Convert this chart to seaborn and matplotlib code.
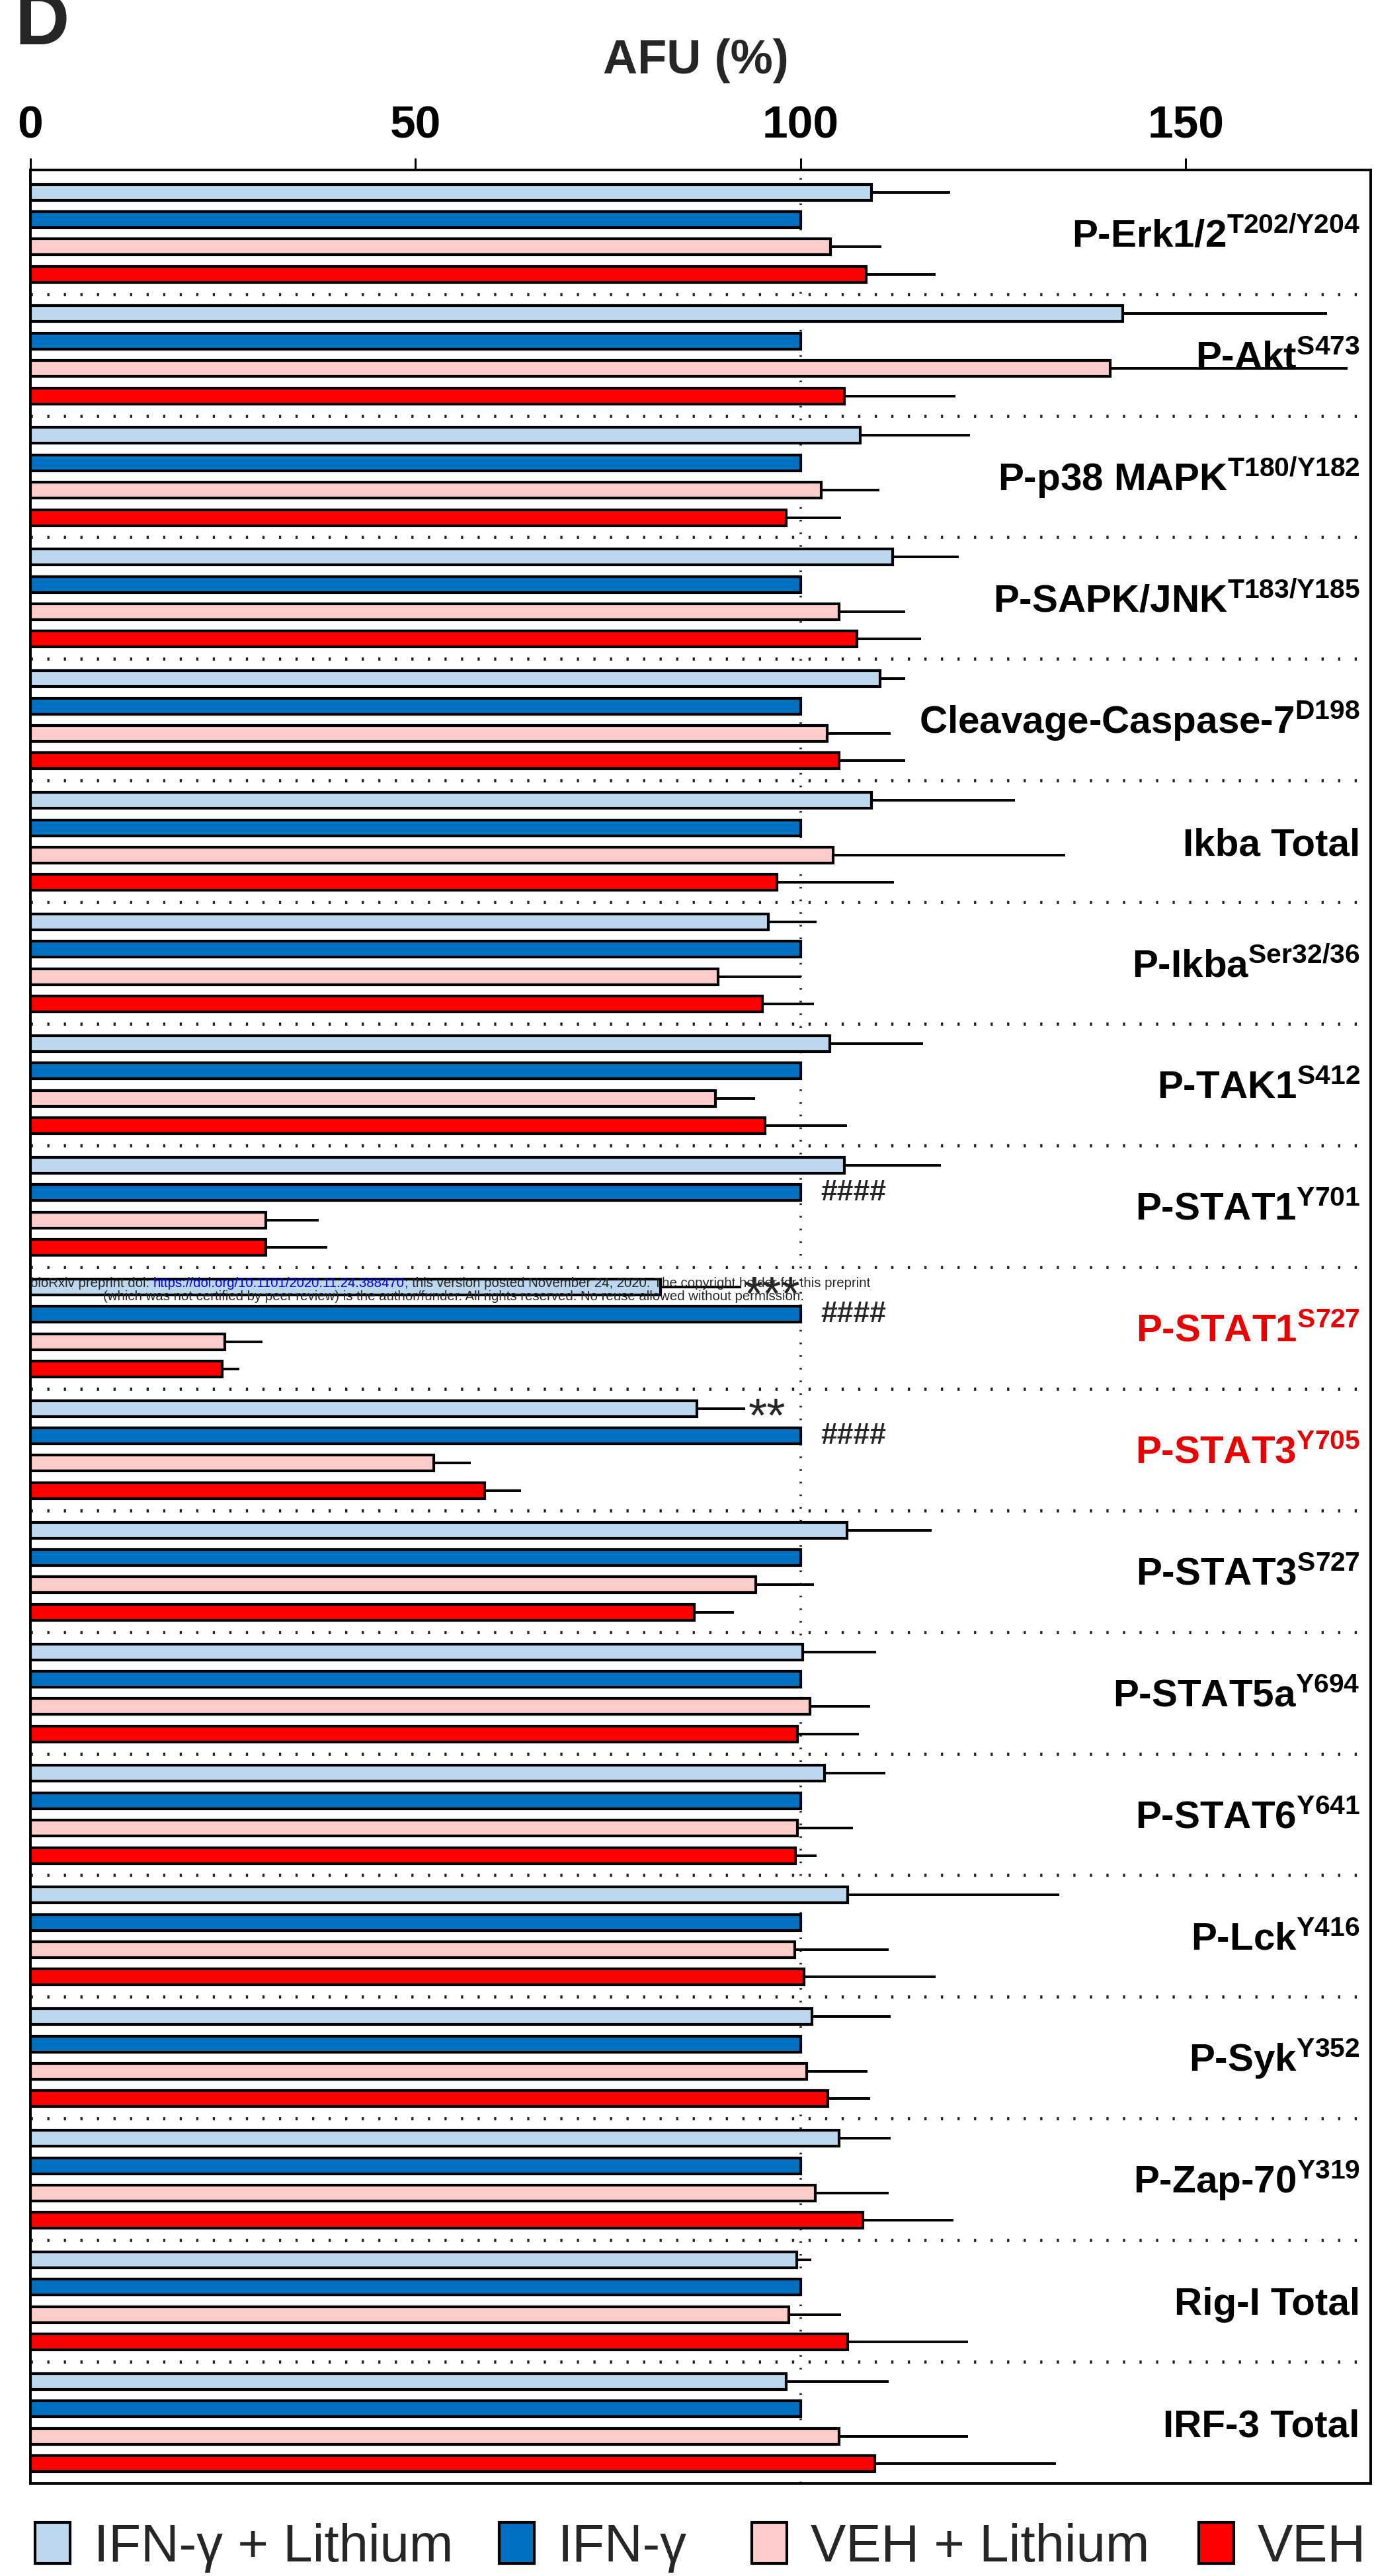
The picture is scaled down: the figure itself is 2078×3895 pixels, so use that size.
import numpy as np
import pandas as pd
import matplotlib
matplotlib.use("Agg")
import matplotlib.pyplot as plt
import matplotlib.transforms as mtransforms
from matplotlib.patches import Patch
from matplotlib.container import BarContainer
import seaborn as sns

# ---------------------------------------------------------------- data
proteins = ["P-Erk1/2", "P-Akt", "P-p38 MAPK", "P-SAPK/JNK", "Cleavage-Caspase-7",
            "Ikba Total", "P-Ikba", "P-TAK1", "P-STAT1 Y701", "P-STAT1 S727",
            "P-STAT3 Y705", "P-STAT3 S727", "P-STAT5a", "P-STAT6", "P-Lck",
            "P-Syk", "P-Zap-70", "Rig-I Total", "IRF-3 Total"]
label_main = ["P-Erk1/2", "P-Akt", "P-p38 MAPK", "P-SAPK/JNK", "Cleavage-Caspase-7",
              "Ikba Total", "P-Ikba", "P-TAK1", "P-STAT1", "P-STAT1",
              "P-STAT3", "P-STAT3", "P-STAT5a", "P-STAT6", "P-Lck",
              "P-Syk", "P-Zap-70", "Rig-I Total", "IRF-3 Total"]
label_site = ["T202/Y204", "S473", "T180/Y182", "T183/Y185", "D198",
              "", "Ser32/36", "S412", "Y701", "S727",
              "Y705", "S727", "Y694", "Y641", "Y416",
              "Y352", "Y319", "", ""]
highlighted = ["P-STAT1 S727", "P-STAT3 Y705"]

groups = ["IFN-γ + Lithium", "IFN-γ", "VEH + Lithium", "VEH"]
colors = ["#bdd7ee", "#0070c0", "#ffcccc", "#ff0000"]

ifn_lithium = [109.2, 141.8, 107.7, 111.9, 110.3, 109.2, 95.8, 103.8, 105.7, 81.8,
               86.5, 106.0, 100.3, 103.1, 106.1, 101.5, 105.0, 99.5, 98.1]
ifn = [100.0] * 19
veh_lithium = [103.9, 140.2, 102.7, 105.0, 103.4, 104.2, 89.3, 88.9, 30.6, 25.2,
               52.4, 94.2, 101.2, 99.6, 99.2, 100.8, 101.9, 98.5, 105.0]
veh = [108.5, 105.7, 98.1, 107.3, 105.0, 96.9, 95.0, 95.4, 30.6, 24.9,
       59.0, 86.2, 99.6, 99.3, 100.4, 103.5, 108.1, 106.1, 109.6]

ifn_lithium_err = [10.2, 26.5, 14.3, 8.6, 3.3, 18.6, 6.3, 12.1, 12.5, 10.5,
                   6.3, 11.0, 9.5, 7.9, 27.5, 10.2, 6.7, 1.9, 13.3]
ifn_err = [0.0] * 19
veh_lithium_err = [6.6, 30.8, 7.5, 8.6, 8.3, 30.1, 10.7, 5.2, 6.8, 4.9,
                   4.8, 7.5, 7.8, 7.2, 12.2, 7.9, 9.5, 6.7, 16.7]
veh_err = [9.0, 14.4, 7.1, 8.3, 8.6, 15.2, 6.7, 10.6, 7.9, 2.2,
           4.7, 5.1, 8.0, 2.8, 17.1, 5.5, 11.7, 15.6, 23.5]

sig_protein = ["P-STAT1 Y701", "P-STAT1 S727", "P-STAT3 Y705", "P-STAT1 S727", "P-STAT3 Y705"]
sig_group = ["IFN-γ", "IFN-γ", "IFN-γ", "IFN-γ + Lithium", "IFN-γ + Lithium"]
sig_text = ["####", "####", "####", "***", "**"]

df = pd.DataFrame({
    "protein": np.repeat(proteins, 4),
    "group": groups * len(proteins),
    "AFU": np.ravel(np.column_stack([ifn_lithium, ifn, veh_lithium, veh])),
})
err_sets = [ifn_lithium_err, ifn_err, veh_lithium_err, veh_err]
val_sets = [ifn_lithium, ifn, veh_lithium, veh]

# ---------------------------------------------------------------- style
sns.set_style("white")
plt.rcParams["font.family"] = ["Liberation Sans", "DejaVu Sans"]
plt.rcParams["mathtext.fontset"] = "custom"
plt.rcParams["mathtext.rm"] = "Liberation Sans:bold"
plt.rcParams["mathtext.bf"] = "Liberation Sans:bold"
plt.rcParams["mathtext.it"] = "Liberation Sans:italic"

W, H = 2078, 3895
fig = plt.figure(figsize=(W / 100, H / 100), dpi=100)
ax = fig.add_axes([46 / W, 140 / H, 2027 / W, 3498 / H])

sns.barplot(data=df, x="AFU", y="protein", hue="group", order=proteins,
            hue_order=groups, palette=colors, saturation=1, orient="h",
            width=0.9, gap=0.42, edgecolor="black", linewidth=3,
            errorbar=None, legend=False, ax=ax, zorder=2)

# one-sided error bars placed on the bars seaborn drew
slot = 0.9 / 4
bar_containers = [c for c in ax.containers if isinstance(c, BarContainer)]
for cont in bar_containers:
    for bar in cont:
        yc = bar.get_y() + bar.get_height() / 2
        k = int(round(yc))
        h = int(round((yc - k + 1.5 * slot) / slot))
        e = err_sets[h][k]
        if e > 0:
            ax.errorbar(bar.get_width(), yc, xerr=[[0], [e]], fmt="none",
                        ecolor="black", elinewidth=2.8, capsize=0, zorder=1.8)

# dotted separators and the 100 % reference line
dots = (0, (0.7, 4.6))
for i in range(len(proteins) - 1):
    ax.axhline(i + 0.5, color="#222222", lw=3.4, ls=dots, zorder=0.5)
ax.axvline(100, color="#222222", lw=2.6, ls=dots, zorder=0.5)

ax.set_xlim(0, 174)
ax.set_ylim(len(proteins) - 0.5, -0.52)

# protein labels on the right
ytrans = mtransforms.blended_transform_factory(ax.transAxes, ax.transData)
for i, (m, s) in enumerate(zip(label_main, label_site)):
    txt = m + (r"$^{\mathrm{" + s + "}}$" if s else "")
    col = "#e60000" if proteins[i] in highlighted else "black"
    ax.text(0.992, i + 0.114, txt, transform=ytrans, ha="right", va="baseline",
            fontsize=42, fontweight="bold", color=col, zorder=4)

# significance marks
for p, g, t in zip(sig_protein, sig_group, sig_text):
    k = proteins.index(p)
    h = groups.index(g)
    yc = k + (h - 1.5) * slot
    if t.startswith("#"):
        ax.text(val_sets[h][k] + 2.6, yc, t, ha="left", va="center",
                fontsize=32, fontweight="bold", zorder=4)
    else:
        ax.text(val_sets[h][k] + err_sets[h][k] + 0.4, yc + 0.19, t,
                ha="left", va="baseline", fontsize=52, zorder=4)

# axes frame and top ticks
ax.xaxis.tick_top()
ax.set_xticks([0, 50, 100, 150])
ax.tick_params(axis="x", direction="out", length=13, width=2.2, pad=12,
               labelsize=50, colors="black")
for lbl in ax.get_xticklabels():
    lbl.set_fontweight("bold")
ax.tick_params(axis="y", left=False, labelleft=False)
ax.set_ylabel("")
ax.xaxis.set_label_position("top")
ax.set_xlabel("AFU (%)", fontsize=52, fontweight="bold")
ax.xaxis.set_label_coords(0.4963, 1.0417)
for sp in ax.spines.values():
    sp.set_visible(True)
    sp.set_color("black")
    sp.set_linewidth(2.8)

# panel letter
fig.text(22 / W, 1 - 67 / H, "D", fontsize=82, fontweight="bold",
         ha="left", va="baseline")

# preprint notice
wm = 14.7
t1 = ax.annotate("bioRxiv preprint doi: ", xy=(46 / W, 1 - 1946 / H),
                 xycoords="figure fraction", fontsize=wm, va="baseline",
                 ha="left", zorder=6)
t2 = ax.annotate("https://doi.org/10.1101/2020.11.24.388470", xy=(1, 0),
                 xycoords=t1, fontsize=wm, va="bottom", ha="left",
                 color="#0000ee", zorder=6)
t3 = ax.annotate("; this version posted November 24, 2020. The copyright holder for this preprint",
                 xy=(1, 0), xycoords=t2, fontsize=wm, va="bottom", ha="left",
                 zorder=6)
ax.annotate("(which was not certified by peer review) is the author/funder. "
            "All rights reserved. No reuse allowed without permission.",
            xy=(156 / W, 1 - 1966 / H), xycoords="figure fraction",
            fontsize=wm, va="baseline", ha="left", zorder=6)

# legend, one entry per swatch position
legend_x = [53, 755, 1137, 1813]
for x0, c, g in zip(legend_x, colors, groups):
    hnd = Patch(facecolor=c, edgecolor="black", linewidth=3)
    fig.legend([hnd], [g], loc="center left",
               bbox_to_anchor=(x0 / W, 1 - 3852 / H), frameon=False,
               fontsize=57.5, handlelength=0.66, handleheight=0.81,
               handletextpad=0.45, borderpad=0, borderaxespad=0)

fig.savefig("out.png", dpi=100)
